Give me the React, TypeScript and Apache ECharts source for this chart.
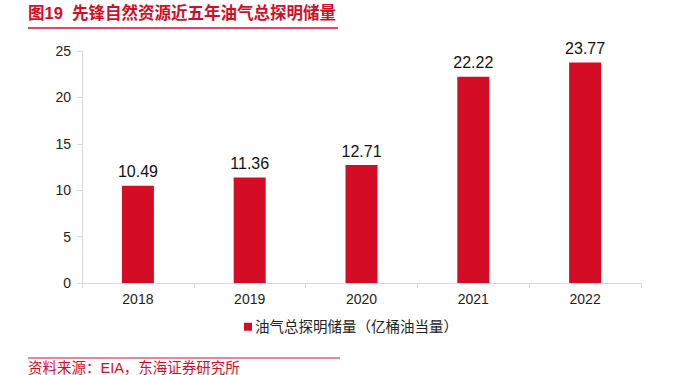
import React, { useEffect, useRef } from "react";
import * as echarts from "echarts";

const categories = ["2018", "2019", "2020", "2021", "2022"];
const reserves = [10.49, 11.36, 12.71, 22.22, 23.77];
const seriesName = "油气总探明储量（亿桶油当量）";
const titleText = "图19  先锋自然资源近五年油气总探明储量";
const sourceText = "资料来源：EIA，东海证券研究所";

const RED = "#d50c26";
const FONT = "'Liberation Sans', 'Noto Sans CJK SC', sans-serif";

export default function App() {
  const ref = useRef<HTMLDivElement>(null);
  useEffect(() => {
    if (!ref.current) return;
    const chart = echarts.init(ref.current, undefined, { renderer: "svg" });
    chart.setOption({
      animation: false,
      backgroundColor: "#ffffff",
      textStyle: { fontFamily: FONT },
      grid: { left: 82, right: 39, top: 51, bottom: 92 },
      legend: {
        bottom: 36,
        left: 239,
        itemWidth: 8,
        itemHeight: 8,
        icon: "rect",
        itemGap: 4,
        textStyle: { fontSize: 14.5, color: "#222", fontFamily: FONT, padding: [0, 0, 0, -2] },
        data: [seriesName],
      },
      xAxis: {
        type: "category",
        data: categories,
        axisLine: { lineStyle: { color: "#d9d9d9" } },
        axisTick: { show: true, alignWithLabel: false, length: 5, lineStyle: { color: "#d9d9d9" } },
        axisLabel: { color: "#222", fontSize: 14, margin: 9, fontFamily: FONT },
      },
      yAxis: {
        type: "value",
        min: 0,
        max: 25,
        interval: 5,
        axisLine: { show: true, lineStyle: { color: "#d9d9d9" } },
        axisTick: { show: true, length: 5, lineStyle: { color: "#d9d9d9" } },
        splitLine: { show: false },
        axisLabel: { color: "#222", fontSize: 14, margin: 11, fontFamily: FONT },
      },
      series: [
        {
          name: seriesName,
          type: "bar",
          data: reserves,
          barWidth: 32,
          itemStyle: { color: RED },
          label: {
            show: true,
            position: "top",
            distance: 6,
            color: "#111",
            fontSize: 16,
            fontFamily: FONT,
            formatter: (p: any) => p.value.toFixed(2),
          },
        },
      ],
      graphic: [
        {
          type: "text",
          left: 28,
          top: 5,
          style: { text: titleText, fill: RED, fontSize: 16.5, fontWeight: "bold", fontFamily: FONT },
        },
        {
          type: "line",
          shape: { x1: 28, y1: 28, x2: 338, y2: 28 },
          style: { stroke: RED, lineWidth: 1.5 },
        },
        {
          type: "line",
          shape: { x1: 28, y1: 358, x2: 340, y2: 358 },
          style: { stroke: RED, lineWidth: 1 },
        },
        {
          type: "text",
          left: 28,
          top: 361,
          style: { text: sourceText, fill: RED, fontSize: 14.5, fontFamily: FONT },
        },
      ],
    });
    return () => chart.dispose();
  }, []);
  return <div ref={ref} style={{ width: 680, height: 375, position: "fixed", left: 0, top: 0 }} />;
}
